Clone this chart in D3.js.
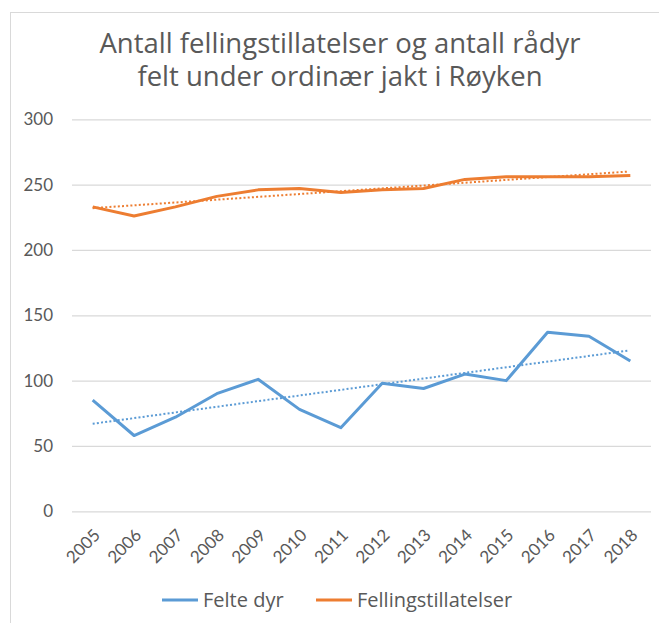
<!DOCTYPE html>
<html>
<head>
<meta charset="utf-8">
<script src="https://cdn.jsdelivr.net/npm/d3@7"></script>
<style>
  html, body { margin: 0; padding: 0; background: #fff; overflow: hidden; }
  svg { display: block; font-family: "Open Sans", Lato, sans-serif; }
</style>
</head>
<body>
<svg id="chart" width="659" height="623"></svg>
<script>
// values
const years = ["2005", "2006", "2007", "2008", "2009", "2010", "2011",
               "2012", "2013", "2014", "2015", "2016", "2017", "2018"];
const felteDyr = [85, 58, 72, 90, 101, 78, 64, 98, 94, 105, 100, 137, 134, 115];
const fellingstillatelser = [233, 226, 233, 241, 246, 247, 244, 246, 247, 254, 256, 256, 256, 257];
// linear trendlines (start 2005, end 2018)
const felteTrend = [67, 123];
const tillatTrend = [232, 260];
const yTicks = [0, 50, 100, 150, 200, 250, 300];
const titleLines = ["Antall fellingstillatelser og antall rådyr", "felt under ordinær jakt i Røyken"];
const legendItems = ["Felte dyr", "Fellingstillatelser"];

const blue = "#5b9bd5", orange = "#ed7d31", textCol = "#595959", gridCol = "#d9d9d9";

const svg = d3.select("#chart");
const plotL = 72, plotR = 651, plotT = 119.3, plotB = 511.3;

// outer chart frame (cropped on right and bottom)
svg.append("rect")
  .attr("x", 10.5).attr("y", 12.5)
  .attr("width", 800).attr("height", 800)
  .attr("fill", "none").attr("stroke", gridCol);

// title
svg.append("g").selectAll("text")
  .data(titleLines)
  .join("text")
  .attr("x", 340)
  .attr("y", (d, i) => 53 + i * 33)
  .attr("text-anchor", "middle")
  .attr("fill", textCol)
  .attr("font-size", 27.5)
  .text(d => d);

const x = d3.scalePoint().domain(years).range([plotL, plotR]).padding(0.5);
const y = d3.scaleLinear().domain([0, 300]).range([plotB, plotT]);

// y axis + gridlines
const gy = svg.append("g")
  .attr("transform", `translate(${plotL},0)`)
  .call(d3.axisLeft(y).tickValues(yTicks).tickSize(-(plotR - plotL)).tickPadding(19));
gy.select(".domain").remove();
gy.selectAll(".tick line").attr("stroke", gridCol).attr("stroke-width", 1.3);
gy.selectAll(".tick text")
  .attr("fill", textCol).attr("font-size", 17).attr("font-family", "Lato");

// x axis labels, rotated
const gx = svg.append("g")
  .attr("transform", `translate(0,${plotB})`)
  .call(d3.axisBottom(x).tickSize(0));
gx.select(".domain").remove();
gx.selectAll(".tick text")
  .attr("fill", textCol).attr("font-size", 17).attr("font-family", "Lato")
  .attr("text-anchor", "end")
  .attr("dy", null).attr("y", null)
  .attr("transform", "translate(8,25) rotate(-45)");

const line = d3.line()
  .x((d, i) => x(years[i]))
  .y(d => y(d));

// trendlines
const trend = (vals, col) => svg.append("line")
  .attr("x1", x(years[0])).attr("y1", y(vals[0]))
  .attr("x2", x(years[years.length - 1]) - 2).attr("y2", y(vals[1]))
  .attr("stroke", col).attr("stroke-width", 2)
  .attr("stroke-dasharray", "2,2.2");

svg.append("path").datum(felteDyr)
  .attr("d", line).attr("fill", "none")
  .attr("stroke", blue).attr("stroke-width", 3)
  .attr("stroke-linejoin", "round");
trend(felteTrend, blue);

svg.append("path").datum(fellingstillatelser)
  .attr("d", line).attr("fill", "none")
  .attr("stroke", orange).attr("stroke-width", 3)
  .attr("stroke-linejoin", "round");
trend(tillatTrend, orange);

// legend
const legX = [162, 316];
const lg = svg.append("g").selectAll("g")
  .data(legendItems)
  .join("g")
  .attr("transform", (d, i) => `translate(${legX[i]},600)`);
lg.append("line")
  .attr("x1", 0).attr("x2", 36)
  .attr("stroke", (d, i) => i ? orange : blue)
  .attr("stroke-width", 3);
lg.append("text")
  .attr("x", 41).attr("dy", "0.35em")
  .attr("fill", textCol).attr("font-size", 20)
  .text(d => d);
</script>
</body>
</html>
